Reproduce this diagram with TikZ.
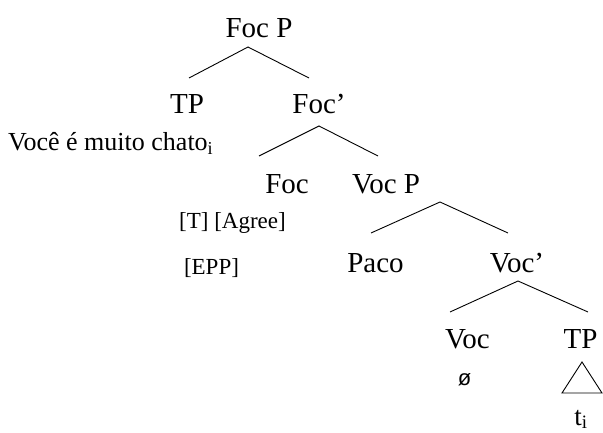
\documentclass[tikz,border=0pt]{standalone}
\usepackage{fontspec}
\setmainfont{Liberation Serif}
\newfontfamily\sansf{Liberation Sans}
\begin{document}
\begin{tikzpicture}[x=1pt,y=1pt,
  big/.style={inner sep=0pt,anchor=base,font=\fontsize{29}{34}\selectfont},
  mid/.style={inner sep=0pt,anchor=base west,font=\fontsize{26}{31}\selectfont},
  small/.style={inner sep=0pt,anchor=base,font=\fontsize{23}{27}\selectfont},
  branch/.style={line width=0.9pt}]
\useasboundingbox (0,0) rectangle (603,432);
% labels
\node[big] (focp) at (259,394) {Foc P};
\node[big] (tp1) at (187,318) {TP};
\node[big] (focbar) at (319,318) {Foc’};
\node[mid] (voce) at (8,281) {Você é muito chato\textsubscript{i}};
\node[big] (foc) at (287,238) {Foc};
\node[big] (vocp) at (386,238) {Voc P};
\node[small] (tagree) at (232.5,204) {[T] [Agree]};
\node[small] (epp) at (211.5,158) {[EPP]};
\node[big] (paco) at (375.5,160) {Paco};
\node[big] (vocbar) at (517,160) {Voc’};
\node[big] (voc) at (467.5,84) {Voc};
\node[big] (tp2) at (580.5,84) {TP};
\node[inner sep=0pt,anchor=base,font=\sansf\fontsize{22}{26}\selectfont] (empty) at (464.5,47) {ø};
\node[big,font=\fontsize{27}{32}\selectfont] (trace) at (581,7) {t\textsubscript{i}};
% branch points
\coordinate (a1) at (248,385); \coordinate (l1) at (189,354); \coordinate (r1) at (309,354);
\coordinate (a2) at (319,306); \coordinate (l2) at (259,276); \coordinate (r2) at (378,276);
\coordinate (a3) at (440,230); \coordinate (l3) at (371,199); \coordinate (r3) at (508,199);
\coordinate (a4) at (518,151); \coordinate (l4) at (450,120); \coordinate (r4) at (588,120);
\coordinate (t1) at (582,70); \coordinate (t2) at (562,39); \coordinate (t3) at (602,39);
\draw[branch] (l1) -- (a1) -- (r1);
\draw[branch] (l2) -- (a2) -- (r2);
\draw[branch] (l3) -- (a3) -- (r3);
\draw[branch] (l4) -- (a4) -- (r4);
\draw[branch,line join=miter] (t1) -- (t2) -- (t3) -- cycle;
\end{tikzpicture}
\end{document}
